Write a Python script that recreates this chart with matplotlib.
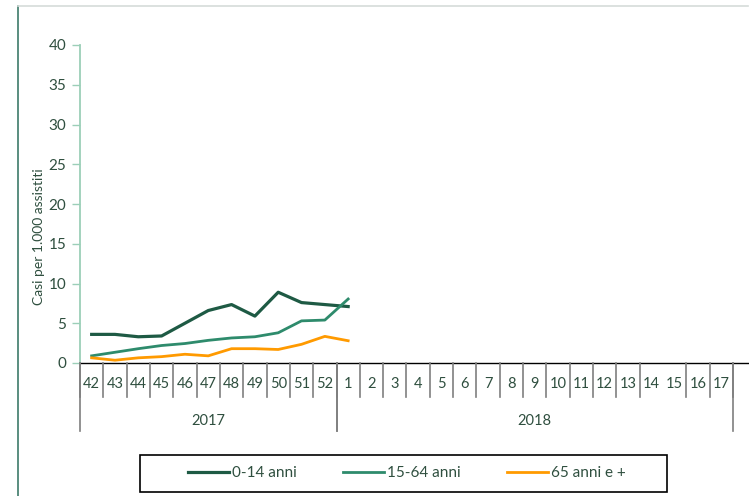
import matplotlib
matplotlib.use("Agg")
import matplotlib.pyplot as plt
from matplotlib.lines import Line2D
from matplotlib.patches import Rectangle
from matplotlib.transforms import blended_transform_factory

plt.rcParams['font.family'] = ['Lato', 'DejaVu Sans']

# weeks 42/2017 .. 17/2018
weeks = ['42', '43', '44', '45', '46', '47', '48', '49', '50', '51', '52',
         '1', '2', '3', '4', '5', '6', '7', '8', '9', '10', '11', '12', '13',
         '14', '15', '16', '17']
years = ['2017', '2018']
year_span = [(0, 11), (11, 28)]  # index ranges of weeks per year

age_0_14 = [3.6, 3.6, 3.3, 3.4, 5.0, 6.6, 7.35, 5.9, 8.9, 7.6, 7.35, 7.1]
age_15_64 = [0.9, 1.35, 1.8, 2.2, 2.45, 2.85, 3.15, 3.3, 3.8, 5.3, 5.4, 8.05]
age_65 = [0.65, 0.35, 0.65, 0.8, 1.1, 0.9, 1.8, 1.8, 1.7, 2.35, 3.35, 2.8]

c_dark = '#1e5a44'
c_mid = '#2e8b6c'
c_orange = '#ff9a00'
txt = '#2f4f3f'

W, H = 749, 496
fig = plt.figure(figsize=(W / 100, H / 100), dpi=100)
ax = fig.add_axes([80 / W, (H - 363) / H, (W - 80) / W, (363 - 45) / H])

x = list(range(len(age_0_14)))
ax.plot(x, age_0_14, color=c_dark, lw=2.3, label='0-14 anni')
ax.plot(x, age_15_64, color=c_mid, lw=2.0, label='15-64 anni')
ax.plot(x, age_65, color=c_orange, lw=2.0, label='65 anni e +')

ax.set_ylim(0, 40)
ax.set_yticks(range(0, 41, 5))
ax.set_xlim(-0.5, 28.19)
ax.set_xticks([])
for s in ['top', 'right']:
    ax.spines[s].set_visible(False)
ax.spines['left'].set_color('#9ccfb8')
ax.spines['left'].set_linewidth(1.3)
ax.spines['bottom'].set_color('black')
ax.spines['bottom'].set_linewidth(1.0)
ax.tick_params(axis='y', colors='#9ccfb8', length=6, width=1, labelcolor=txt,
               labelsize=11, pad=4)
ax.set_ylabel('Casi per 1.000 assistiti', color=txt, fontsize=10)
ax.yaxis.set_label_coords(-0.053, 0.396)

# multi-level category axis
tr = blended_transform_factory(ax.transData, fig.transFigure)
fy = lambda py: (H - py) / H
for i, w in enumerate(weeks):
    ax.text(i, fy(384), w, transform=tr, ha='center', va='center',
            fontsize=10.5, color=txt)
for i in range(len(weeks) + 1):
    if i == 25:
        continue
    fig.add_artist(Line2D([i - 0.5, i - 0.5], [fy(363), fy(397)], transform=tr,
                          color='#7f7f7f', lw=1.2))
for (a, b), yr in zip(year_span, years):
    ax.text((a + b - 1) / 2, fy(421), yr, transform=tr, ha='center', va='center',
            fontsize=10.5, color=txt)
    for e in (a, b):
        fig.add_artist(Line2D([e - 0.5, e - 0.5], [fy(363), fy(431)], transform=tr,
                              color='#7f7f7f', lw=1.2))

# frame decorations
fig.add_artist(Line2D([18 / W, 18 / W], [0, fy(6)], color='#3d7a6a', lw=1.2))
fig.add_artist(Line2D([18 / W, 748 / W], [fy(6), fy(6)], color='#d5dcd9', lw=1.2))

# legend
fig.add_artist(Rectangle((140 / W, fy(492)), 527 / W, 37 / H, fill=False,
                         edgecolor='black', lw=1.2, transform=fig.transFigure))
fig.legend(loc='center', bbox_to_anchor=(407 / W, fy(473)), ncol=3,
           frameon=False, fontsize=11, handlelength=2.7, handletextpad=0.2,
           columnspacing=3.0, labelcolor=txt)

fig.savefig('out.png', dpi=100)
